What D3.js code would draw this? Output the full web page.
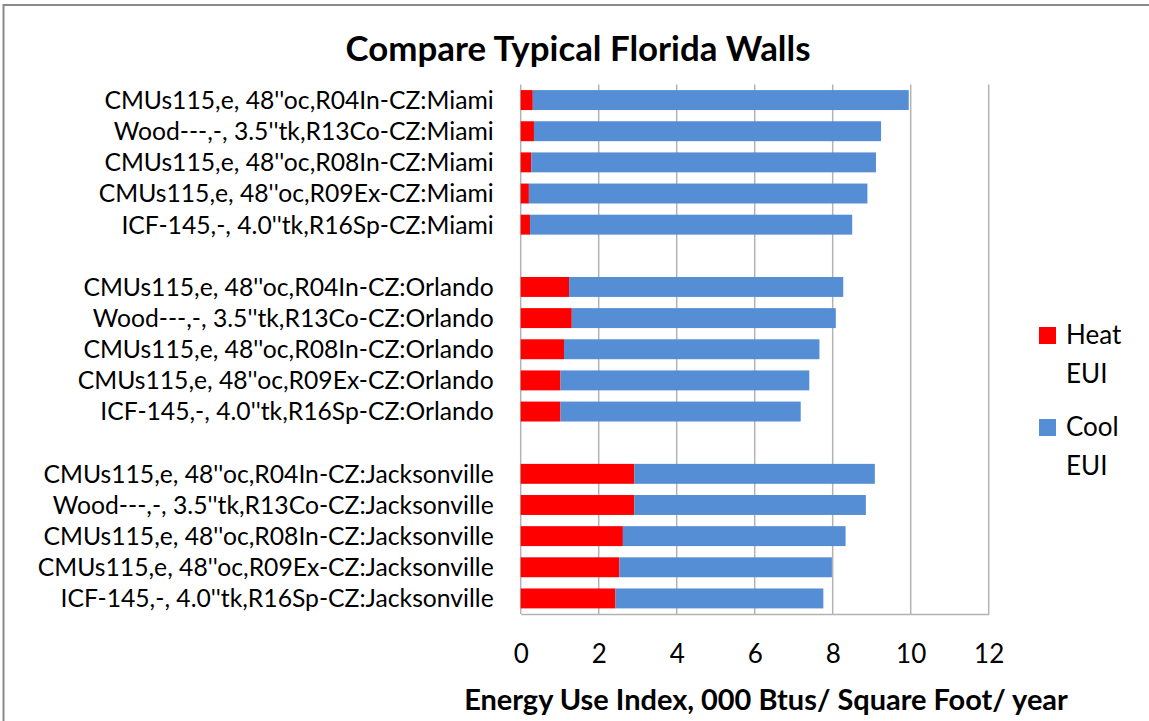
<!DOCTYPE html>
<html>
<head>
<meta charset="utf-8">
<script src="https://cdn.jsdelivr.net/npm/d3@7"></script>
<style>
  body { margin: 0; background: #fff; }
  text { font-family: Lato, "Open Sans", sans-serif; fill: #000; }
</style>
</head>
<body>
<svg id="chart" width="1149" height="721"></svg>
<script>
// wall assemblies, blank entries separate the three climate zones
const wallLabels = [
  "CMUs115,e, 48''oc,R04In-CZ:Miami",
  "Wood---,-, 3.5''tk,R13Co-CZ:Miami",
  "CMUs115,e, 48''oc,R08In-CZ:Miami",
  "CMUs115,e, 48''oc,R09Ex-CZ:Miami",
  "ICF-145,-, 4.0''tk,R16Sp-CZ:Miami",
  "",
  "CMUs115,e, 48''oc,R04In-CZ:Orlando",
  "Wood---,-, 3.5''tk,R13Co-CZ:Orlando",
  "CMUs115,e, 48''oc,R08In-CZ:Orlando",
  "CMUs115,e, 48''oc,R09Ex-CZ:Orlando",
  "ICF-145,-, 4.0''tk,R16Sp-CZ:Orlando",
  "",
  "CMUs115,e, 48''oc,R04In-CZ:Jacksonville",
  "Wood---,-, 3.5''tk,R13Co-CZ:Jacksonville",
  "CMUs115,e, 48''oc,R08In-CZ:Jacksonville",
  "CMUs115,e, 48''oc,R09Ex-CZ:Jacksonville",
  "ICF-145,-, 4.0''tk,R16Sp-CZ:Jacksonville",
];

const heatEUI = [0.31, 0.34, 0.27, 0.21, 0.24, null,
  1.24, 1.31, 1.11, 1.02, 1.02, null,
  2.91, 2.91, 2.62, 2.53, 2.43];

const coolEUI = [9.64, 8.90, 8.84, 8.68, 8.26, null,
  7.03, 6.77, 6.55, 6.38, 6.16, null,
  6.17, 5.94, 5.71, 5.45, 5.33];

const xTicks = [0, 2, 4, 6, 8, 10, 12];
const seriesNames = ["Heat EUI", "Cool EUI"];
const seriesColors = ["#ff0000", "#558ed5"];

const svg = d3.select("#chart");
const gridColor = "#b3b3b3";

// scale font size of a text selection so its widest member spans targetWidth
const fitFont = (sel, baseSize, targetWidth) => {
  sel.style("font-size", `${baseSize}px`);
  const widest = d3.max(sel.nodes(), (n) => n.getComputedTextLength());
  sel.style("font-size", `${(baseSize * targetWidth) / widest}px`);
};

// outer chart frame (right and bottom edges fall outside the picture)
svg.append("rect")
  .attr("x", 3.5)
  .attr("y", 5)
  .attr("width", 1160)
  .attr("height", 730)
  .attr("fill", "#fff")
  .attr("stroke", "#8a8a8a")
  .attr("stroke-width", 2);

const plot = { left: 520.7, right: 988.7, top: 84.5, bottom: 614 };

const x = d3.scaleLinear().domain([0, 12]).range([plot.left, plot.right]);
const y = d3.scaleBand()
  .domain(d3.range(wallLabels.length))
  .range([plot.top, plot.bottom])
  .paddingInner(0.36)
  .paddingOuter(0.18);

// vertical gridlines
svg.append("g")
  .selectAll("line")
  .data(xTicks)
  .join("line")
  .attr("x1", (d) => x(d))
  .attr("x2", (d) => x(d))
  .attr("y1", plot.top)
  .attr("y2", plot.bottom)
  .attr("stroke", gridColor)
  .attr("stroke-width", 1.5);

const rows = wallLabels.map((label, i) => ({
  i,
  label,
  heat: heatEUI[i],
  cool: coolEUI[i],
})).filter((d) => d.heat != null);

svg.append("g")
  .selectAll("rect")
  .data(rows)
  .join("rect")
  .attr("x", (d) => x(0))
  .attr("y", (d) => y(d.i))
  .attr("width", (d) => x(d.heat) - x(0))
  .attr("height", y.bandwidth())
  .attr("fill", seriesColors[0]);

svg.append("g")
  .selectAll("rect")
  .data(rows)
  .join("rect")
  .attr("x", (d) => x(d.heat))
  .attr("y", (d) => y(d.i))
  .attr("width", (d) => x(d.heat + d.cool) - x(d.heat))
  .attr("height", y.bandwidth())
  .attr("fill", seriesColors[1]);

// x axis
const xAxis = svg.append("g")
  .attr("transform", `translate(0,${plot.bottom})`)
  .call(d3.axisBottom(x).tickValues(xTicks).tickSize(0).tickPadding(31));
xAxis.select(".domain").attr("stroke", gridColor).attr("stroke-width", 1.5);
xAxis.selectAll("text")
  .style("font-family", "Lato, sans-serif")
  .style("font-size", "26px")
  .attr("fill", "#000");

// category labels
const yAxis = svg.append("g")
  .attr("transform", `translate(${plot.left},0)`)
  .call(d3.axisLeft(y).tickSize(0).tickPadding(27).tickFormat((i) => wallLabels[i]));
yAxis.select(".domain").remove();
const yLabels = yAxis.selectAll("text")
  .style("font-family", "Lato, sans-serif")
  .attr("dy", "0.36em")
  .attr("fill", "#000");
fitFont(yLabels, 20, 456);

// title
const title = svg.append("text")
  .attr("x", 578)
  .attr("y", 61)
  .attr("text-anchor", "middle")
  .style("font-weight", "bold")
  .text("Compare Typical Florida Walls");
fitFont(title, 30, 465);

// axis title
const xTitle = svg.append("text")
  .attr("x", 766)
  .attr("y", 710)
  .attr("text-anchor", "middle")
  .style("font-weight", "bold")
  .text("Energy Use Index, 000 Btus/ Square Foot/ year");
fitFont(xTitle, 24, 604);

// legend
const legendY = [327, 419];
const legend = svg.append("g")
  .selectAll("g")
  .data(seriesNames)
  .join("g")
  .attr("transform", (d, i) => `translate(1039,${legendY[i]})`);

legend.append("rect")
  .attr("width", 17)
  .attr("height", 17)
  .attr("fill", (d, i) => seriesColors[i]);

legend.append("text")
  .attr("x", 27)
  .attr("y", 17)
  .style("font-size", "26px")
  .selectAll("tspan")
  .data((d) => d.split(" "))
  .join("tspan")
  .attr("x", 27)
  .attr("dy", (d, j) => (j === 0 ? 0 : 39))
  .text((d) => d);
</script>
</body>
</html>
